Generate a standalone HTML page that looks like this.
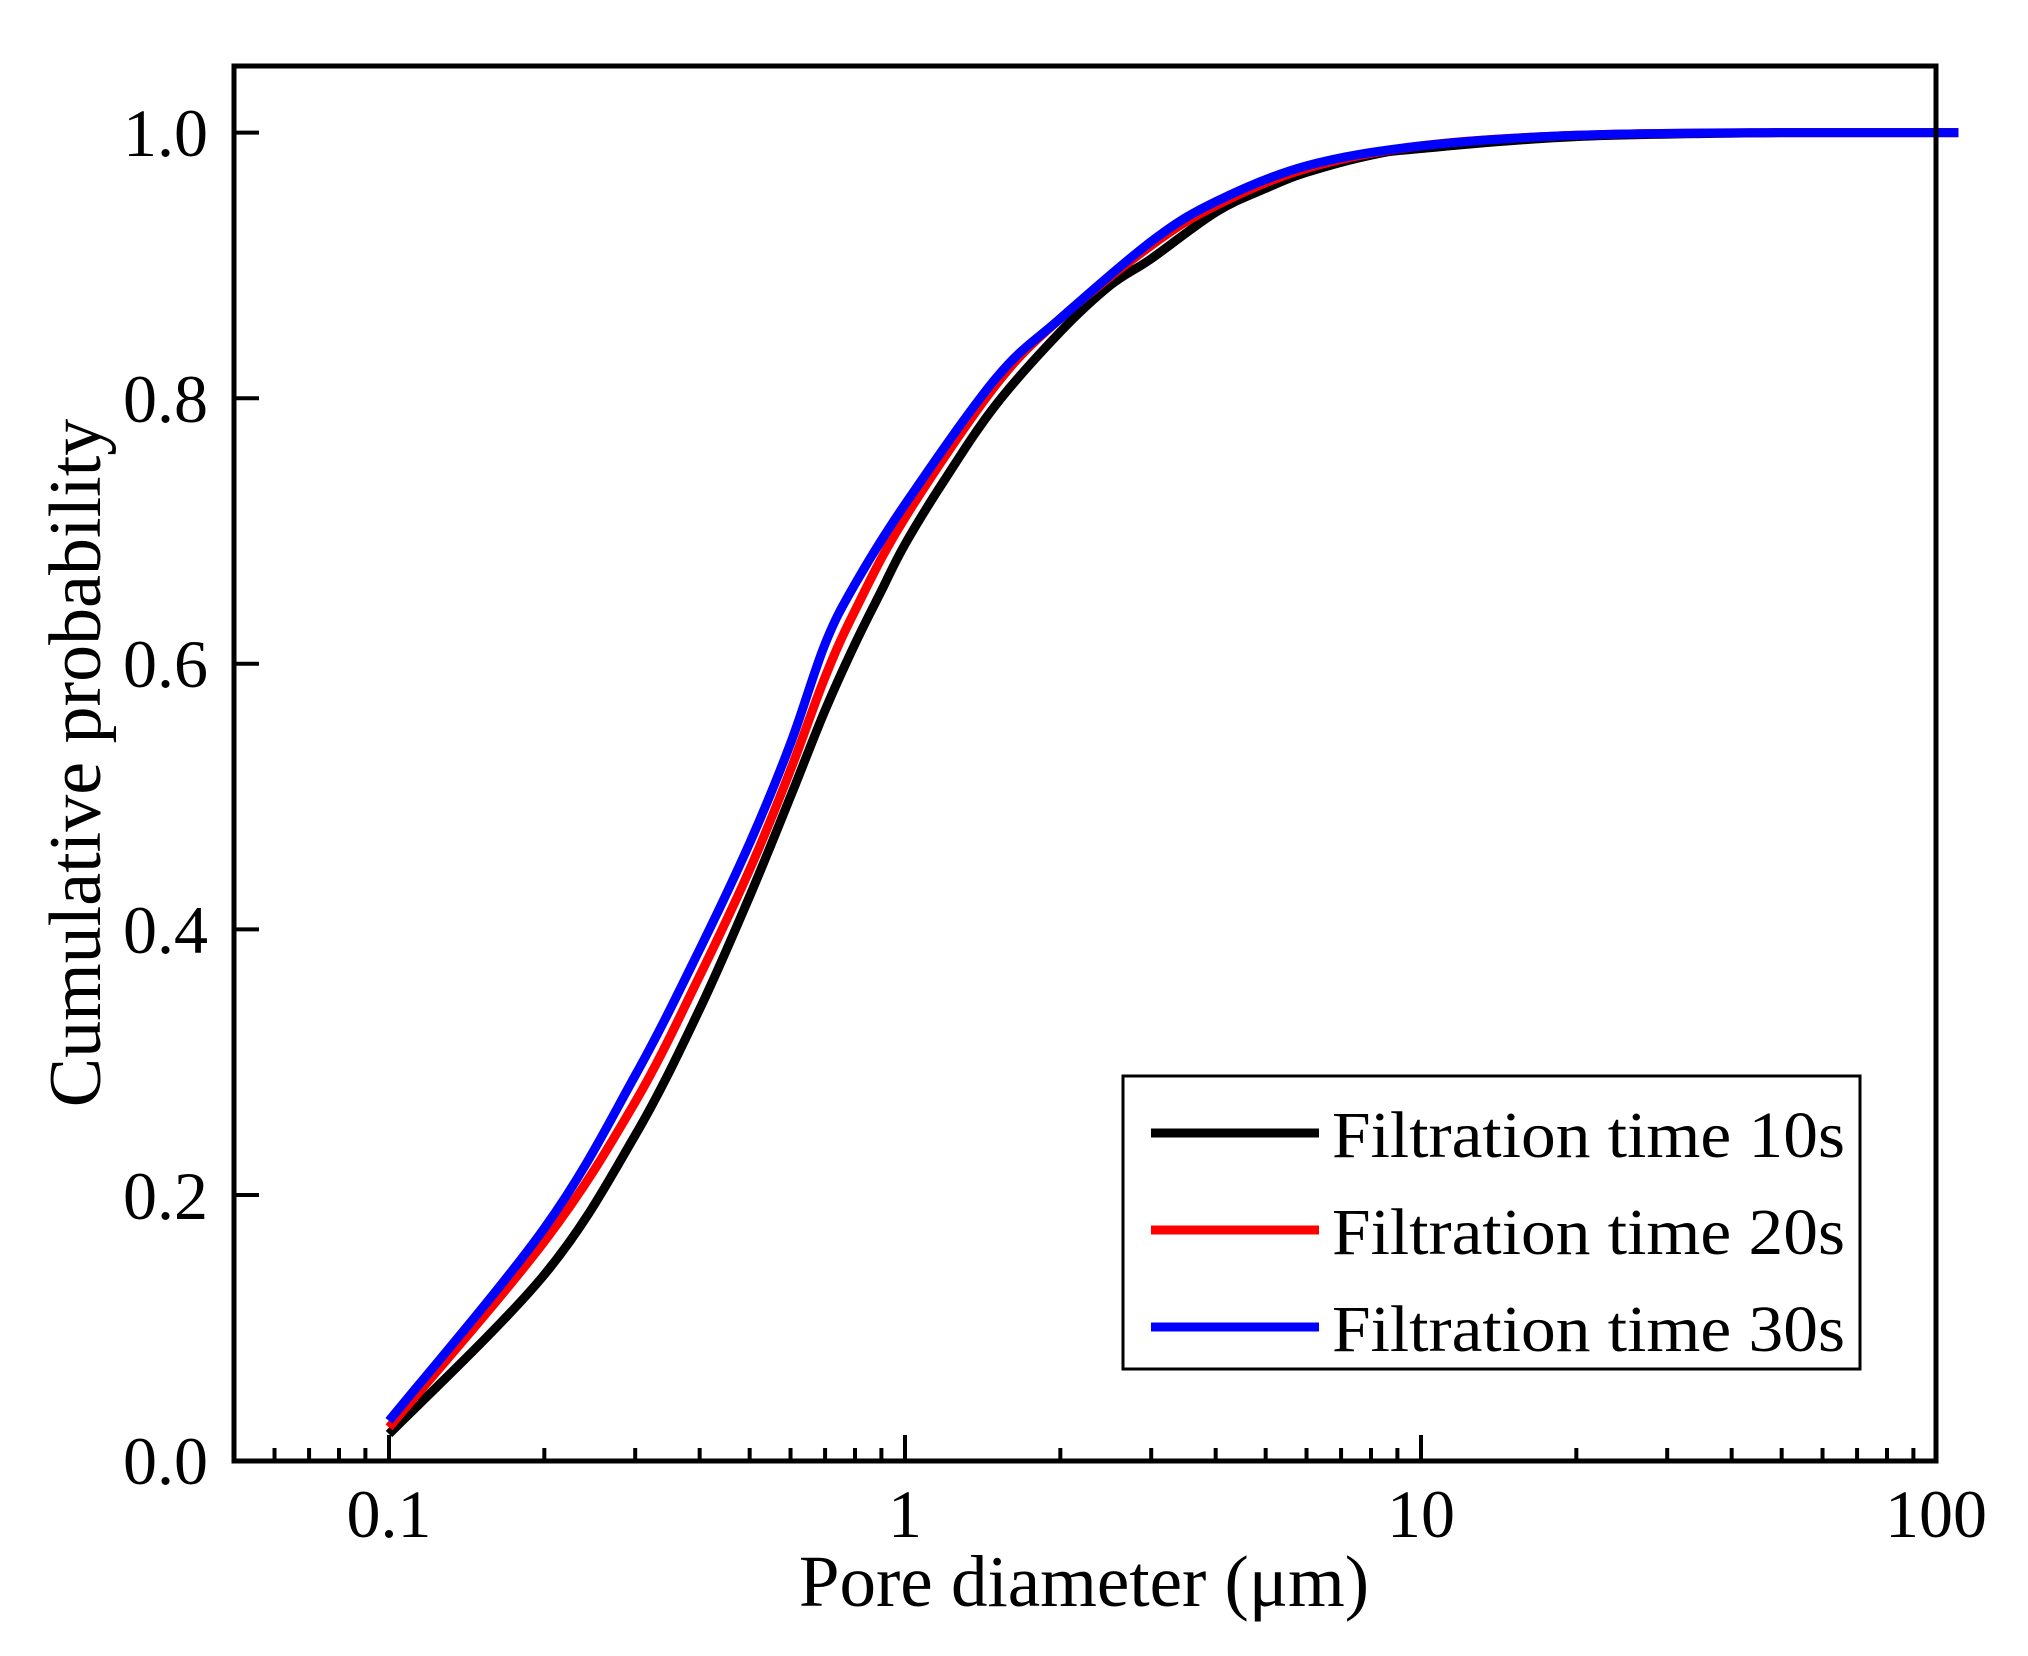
<!DOCTYPE html>
<html><head><meta charset="utf-8"><style>html,body{margin:0;padding:0;background:#fff}svg{display:block}</style></head>
<body>
<svg id="s" width="2028" height="1656" viewBox="0 0 2028 1656" xmlns="http://www.w3.org/2000/svg" font-family="Liberation Serif, serif">
<rect width="2028" height="1656" fill="#fff"/>
<g id="curves" fill="none" stroke-width="9" stroke-linejoin="round"></g>
<g id="ticks" stroke="#000" stroke-width="4"></g>
<rect x="234" y="66" width="1702" height="1395" fill="none" stroke="#000" stroke-width="5"/>
<g font-size="68" text-anchor="end" fill="#000">
<text x="208" y="156">1.0</text>
<text x="208" y="422">0.8</text>
<text x="208" y="687">0.6</text>
<text x="208" y="953">0.4</text>
<text x="208" y="1219">0.2</text>
<text x="208" y="1484">0.0</text>
</g>
<g font-size="68" text-anchor="middle" fill="#000">
<text x="389" y="1537">0.1</text>
<text x="905" y="1537">1</text>
<text x="1421" y="1537">10</text>
<text x="1936" y="1537">100</text>
<text x="1084" y="1606" font-size="73">Pore diameter (μm)</text>
<text transform="translate(100,763) rotate(-90)" font-size="74">Cumulative probability</text>
</g>
<rect x="1123" y="1076" width="737" height="293" fill="#fff" stroke="#000" stroke-width="3"/>
<line x1="1151" y1="1133" x2="1319" y2="1133" stroke="#000" stroke-width="9"/>
<line x1="1151" y1="1230" x2="1319" y2="1230" stroke="#f00" stroke-width="9"/>
<line x1="1151" y1="1327" x2="1319" y2="1327" stroke="#00f" stroke-width="9"/>
<g font-size="66" fill="#000">
<text x="1332" y="1157" textLength="513" lengthAdjust="spacingAndGlyphs">Filtration time 10s</text>
<text x="1332" y="1254" textLength="513" lengthAdjust="spacingAndGlyphs">Filtration time 20s</text>
<text x="1332" y="1351" textLength="513" lengthAdjust="spacingAndGlyphs">Filtration time 30s</text>
</g>
</svg>
<script>
var X=function(v){return 389+516*(Math.log10(v)+1);};
var Y=function(p){return 1460.6-p*1328;};
var ns="http://www.w3.org/2000/svg";
var data={
"#000":[[0.1,0.02],[0.2,0.14],[0.3,0.245],[0.4,0.34],[0.5,0.425],[0.6,0.5],[0.7,0.565],[0.8,0.615],[0.9,0.655],[1,0.69],[1.2,0.74],[1.5,0.795],[2,0.85],[2.5,0.885],[3,0.905],[4,0.94],[5,0.958],[6,0.97],[8,0.983],[10,0.988],[20,0.997],[50,1],[110,1]],
"#f00":[[0.1,0.025],[0.2,0.165],[0.3,0.27],[0.4,0.365],[0.5,0.445],[0.6,0.52],[0.7,0.59],[0.8,0.64],[1,0.71],[1.5,0.81],[2,0.86],[3,0.915],[4,0.945],[6,0.973],[10,0.99],[20,0.998],[50,1],[110,1]],
"#00f":[[0.1,0.03],[0.2,0.175],[0.3,0.29],[0.4,0.385],[0.5,0.465],[0.6,0.54],[0.7,0.615],[0.8,0.66],[1,0.72],[1.5,0.815],[2,0.86],[3,0.918],[4,0.948],[6,0.975],[10,0.99],[20,0.998],[50,1],[110,1]]};
var g=document.getElementById("curves");
for(var c in data){
 var P=data[c].map(function(d){return [X(d[0]),Y(d[1])];});
 var s="M"+P[0][0].toFixed(1)+","+P[0][1].toFixed(1);
 for(var i=0;i<P.length-1;i++){
  var p0=P[Math.max(0,i-1)],p1=P[i],p2=P[i+1],p3=P[Math.min(P.length-1,i+2)];
  var c1x=p1[0]+(p2[0]-p0[0])/6,c1y=p1[1]+(p2[1]-p0[1])/6;
  var c2x=p2[0]-(p3[0]-p1[0])/6,c2y=p2[1]-(p3[1]-p1[1])/6;
  if(c1y<Y(1))c1y=Y(1); if(c2y<Y(1))c2y=Y(1);
  s+=" C"+c1x.toFixed(1)+","+c1y.toFixed(1)+" "+c2x.toFixed(1)+","+c2y.toFixed(1)+" "+p2[0].toFixed(1)+","+p2[1].toFixed(1);
 }
 var p=document.createElementNS(ns,"path");p.setAttribute("d",s);p.setAttribute("stroke",c);g.appendChild(p);}
var t=document.getElementById("ticks");
function L(a,b,c,d){var l=document.createElementNS(ns,"line");l.setAttribute("x1",a);l.setAttribute("y1",b);l.setAttribute("x2",c);l.setAttribute("y2",d);t.appendChild(l);}
for(var e=-2;e<=1;e++){for(var k=1;k<=9;k++){var v=k*Math.pow(10,e);var x=X(v);if(x<236||x>1934)continue;L(x,1461,x,k==1?1435:1448);}}
for(var i=0;i<=5;i++){var y=Y(i*0.2);L(234,y,259,y);}
</script>
</body></html>
